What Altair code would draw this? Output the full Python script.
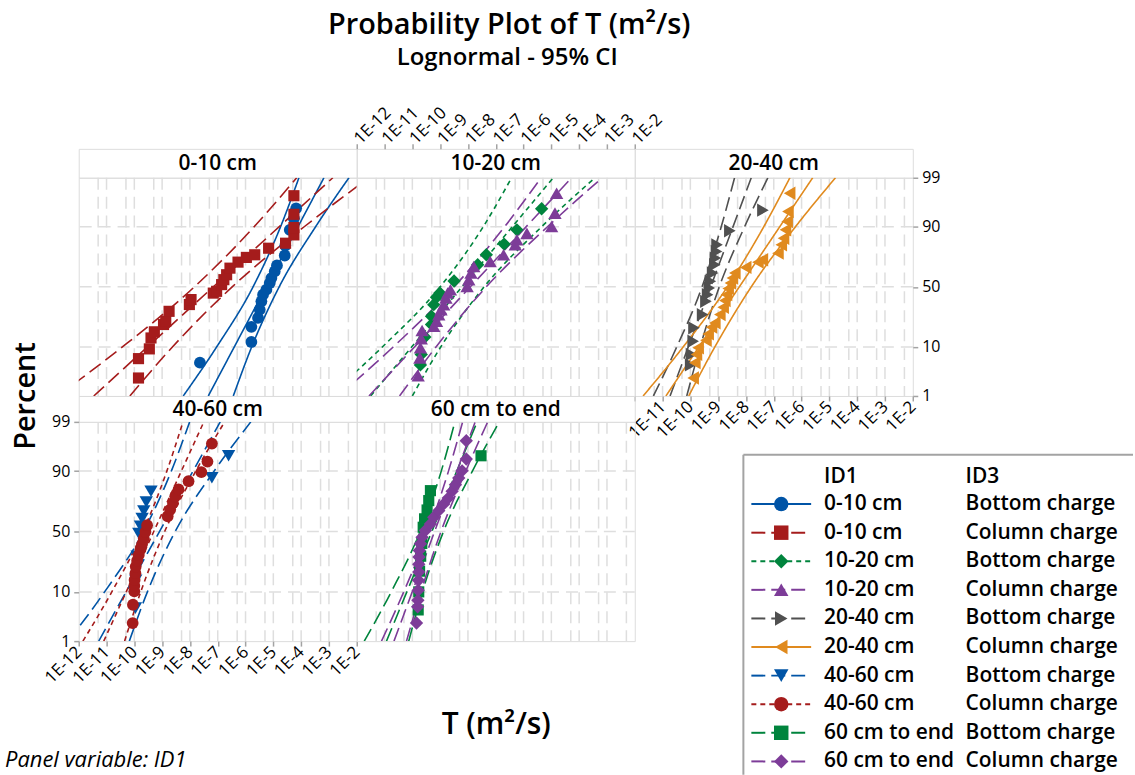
import altair as alt
import pandas as pd
from statistics import NormalDist
import math

FONT = "Open Sans"
BORDER = "#A3A3A3"
GRID = "#DEDEDE"
ND = NormalDist()

TITLE = "Probability Plot of T (m²/s)"
SUBTITLE = "Lognormal - 95% CI"
XTITLE = "T (m²/s)"
YTITLE = "Percent"
FOOT = "Panel variable: ID1"

PANELS = ["0-10 cm", "10-20 cm", "20-40 cm", "40-60 cm", "60 cm to end"]
ID1 = ["0-10 cm", "0-10 cm", "10-20 cm", "10-20 cm", "20-40 cm", "20-40 cm",
       "40-60 cm", "40-60 cm", "60 cm to end", "60 cm to end"]
ID3 = ["Bottom charge", "Column charge"] * 5
COLORS = ["#0054A6", "#A51C1C", "#00843D", "#7D3C98", "#505050", "#E08A1E",
          "#0054A6", "#A51C1C", "#00843D", "#7D3C98"]
SHAPES = ["circle", "square", "diamond", "triangle-up", "triangle-right", "triangle-left",
          "triangle-down", "circle", "square", "diamond"]
SIZES = [140, 125, 180, 180, 180, 180, 180, 140, 125, 180]
DASHES = [[1, 0], [14, 6], [5, 4], [14, 6], [14, 6], [1, 0], [14, 6], [5, 4], [14, 6], [14, 6]]

# percent levels where fitted line / CI curves were read
FIT_PCT = [1, 99]
CI_PCT = [1, 10, 50, 90, 99]

# ---- observed points: log10(T) and percent ----
s1_logT = [-7.64, -5.79, -5.79, -5.55, -5.49, -5.43, -5.37, -5.25, -5.13, -5.07, -4.95, -4.87, -4.59, -4.57, -4.41, -4.26, -4.18]
s1_pct = [5.3, 12.0, 19.7, 25.4, 31.4, 37.9, 43.4, 47.6, 53.2, 57.4, 62.9, 67.6, 74.8, 81.1, 88.8, 92.8, 95.3]
s2_logT = [-9.85, -9.85, -9.46, -9.40, -9.28, -8.95, -8.87, -8.75, -8.02, -7.96, -7.16, -7.04, -6.86, -6.78, -6.68, -6.56, -6.27, -5.97, -5.67, -5.17, -4.56, -4.26, -4.26, -4.26, -4.26]
s2_pct = [2.6, 6.3, 9.3, 13.8, 16.9, 21.1, 23.2, 30.1, 35.3, 39.3, 44.7, 46.2, 51.9, 56.1, 60.2, 65.5, 70.1, 73.5, 75.3, 79.5, 82.4, 86.6, 89.7, 93.9, 97.4]
s3_logT = [-9.71, -9.68, -9.55, -9.31, -9.31, -9.23, -9.13, -9.01, -8.50, -7.65, -7.34, -6.70, -6.24, -5.35]
s3_pct = [4.8, 7.5, 14.2, 21.1, 26.5, 35.2, 41.2, 44.8, 55.0, 68.1, 75.3, 81.9, 88.8, 95.2]
s4_logT = [-9.79, -9.73, -9.71, -9.68, -9.65, -9.23, -9.13, -9.05, -8.97, -8.87, -8.79, -8.73, -8.63, -8.03, -7.97, -7.89, -7.79, -7.20, -6.72, -6.30, -6.24, -5.88, -4.99, -4.87, -4.81]
s4_pct = [2.9, 6.5, 9.7, 13.5, 17.6, 20.1, 23.2, 27.7, 31.4, 35.2, 40.6, 44.8, 47.6, 50.4, 56.1, 61.6, 66.8, 70.6, 75.3, 81.5, 84.2, 87.3, 90.1, 94.2, 97.7]
s5_logT = [-9.99, -9.96, -9.90, -9.87, -9.56, -9.44, -9.38, -9.32, -9.28, -9.20, -9.12, -9.10, -9.06, -9.04, -8.58, -7.39]
s5_pct = [4.8, 7.5, 12.3, 19.1, 27.7, 37.9, 43.4, 49.0, 54.7, 61.6, 68.1, 73.0, 77.5, 81.5, 88.4, 94.9]
s6_logT = [-9.90, -9.84, -9.78, -9.72, -9.44, -9.36, -9.24, -9.12, -8.94, -8.82, -8.76, -8.70, -8.64, -8.56, -8.49, -8.40, -8.01, -7.57, -7.41, -6.85, -6.73, -6.65, -6.58, -6.52, -6.49, -6.43]
s6_pct = [2.6, 5.3, 7.5, 9.7, 12.7, 15.8, 19.5, 22.1, 27.7, 33.1, 38.5, 43.4, 48.5, 53.2, 57.4, 61.6, 66.1, 70.1, 71.8, 76.4, 81.5, 85.0, 88.8, 91.8, 94.6, 97.7]
s7_logT = [-9.96, -9.95, -9.90, -9.84, -9.78, -9.72, -9.66, -9.57, -9.40, -7.21, -6.61]
s7_pct = [5.2, 15.0, 30.0, 48.3, 54.5, 60.8, 66.8, 73.4, 80.4, 87.3, 94.6]
s8_logT = [-10.06, -10.05, -10.00, -10.00, -9.99, -9.96, -9.95, -9.90, -9.84, -9.78, -9.72, -9.66, -9.60, -9.54, -8.80, -8.71, -8.61, -8.53, -8.41, -8.05, -7.59, -7.37, -7.21]
s8_pct = [2.6, 6.0, 10.2, 12.5, 15.2, 18.8, 22.8, 26.8, 30.9, 35.2, 39.5, 44.1, 49.7, 55.3, 62.7, 67.9, 72.7, 77.2, 81.4, 85.7, 89.6, 93.1, 96.9]
s9_logT = [-9.79, -9.77, -9.74, -9.70, -9.66, -9.61, -9.56, -9.47, -9.41, -9.35, -7.53]
s9_pct = [4.8, 10.0, 20.0, 30.0, 40.0, 53.6, 60.6, 67.6, 74.4, 80.7, 94.6]
s10_logT = [-9.85, -9.81, -9.80, -9.79, -9.78, -9.77, -9.77, -9.76, -9.75, -9.71, -9.65, -9.53, -9.35, -9.23, -9.05, -8.87, -8.71, -8.57, -8.45, -8.33, -8.21, -8.06, -8.06]
s10_pct = [2.6, 5.5, 7.2, 10.6, 15.0, 19.5, 24.3, 29.4, 34.4, 39.7, 45.2, 50.8, 56.4, 61.9, 67.1, 72.1, 76.1, 80.3, 84.0, 87.2, 90.1, 93.8, 97.3]

# ---- fitted lines (log10 T at 1% and 99%) ----
fit_logT = [
    [-7.34, -3.18], [-11.46, -2.86], [-11.5, -4.93], [-11.56, -4.27], [-10.73, -7.81],
    [-10.88, -5.60], [-11.28, -6.91], [-11.1, -7.5], [-10.93, -7.67], [-10.66, -7.74]]
# ---- 95% CI curves (log10 T at 1, 10, 50, 90, 99 %) ----
lo_logT = [
    [-8.24, -7.04, -5.73, -4.74, -4.08], [-12.76, -10.43, -7.84, -5.69, -4.16],
    [-13.0, -11.08, -9.0, -7.45, -6.43], [-12.66, -10.69, -8.50, -6.68, -5.37],
    [-11.33, -10.49, -9.58, -8.89, -8.41], [-11.70, -10.26, -8.67, -7.36, -6.42],
    [-12.38, -11.07, -9.67, -8.67, -8.01], [-11.85, -10.81, -9.69, -8.83, -8.25],
    [-11.73, -10.76, -9.72, -8.96, -8.47], [-11.11, -10.31, -9.43, -8.70, -8.19]]
hi_logT = [
    [-6.44, -5.78, -4.79, -3.48, -2.28], [-10.16, -8.63, -6.48, -3.89, -1.56],
    [-10.0, -8.98, -7.42, -5.35, -3.43], [-10.46, -9.15, -7.34, -5.14, -3.17],
    [-10.13, -9.65, -8.96, -8.05, -7.21], [-10.06, -9.12, -7.81, -6.22, -4.78],
    [-10.18, -9.53, -8.53, -7.13, -5.81], [-10.35, -9.77, -8.91, -7.79, -6.75],
    [-10.13, -9.64, -8.88, -7.84, -6.87], [-10.21, -9.69, -8.97, -8.08, -7.29]]

PTS_LOGT = [s1_logT, s2_logT, s3_logT, s4_logT, s5_logT, s6_logT, s7_logT, s8_logT, s9_logT, s10_logT]
PTS_PCT = [s1_pct, s2_pct, s3_pct, s4_pct, s5_pct, s6_pct, s7_pct, s8_pct, s9_pct, s10_pct]

VGRID_T = [5e-12, 1e-11, 5e-11, 1e-10, 5e-10, 1e-9, 5e-9, 1e-8, 5e-8, 1e-7, 5e-7,
           1e-6, 5e-6, 1e-5, 5e-5, 1e-4, 5e-4, 1e-3, 5e-3]
HGRID_PCT = [10, 50, 90]
X_TICKS = list(range(-12, -1))
Y_TICK_PCT = [1, 10, 50, 90, 99]


def zval(p):
    return ND.inv_cdf(p / 100.0)


SIDS = [a + " | " + b for a, b in zip(ID1, ID3)]
pt_rows, ln_rows = [], []
for i, sid in enumerate(SIDS):
    for lt, p in zip(PTS_LOGT[i], PTS_PCT[i]):
        pt_rows.append({"sid": sid, "panel": ID1[i], "lx": lt, "zz": zval(p)})
    for kind, vals, pcts in (("fit", fit_logT[i], FIT_PCT), ("lo", lo_logT[i], CI_PCT), ("hi", hi_logT[i], CI_PCT)):
        for lt, p in zip(vals, pcts):
            ln_rows.append({"sid": sid, "panel": ID1[i], "key": sid + kind, "lx": lt, "zz": zval(p)})
pts_df = pd.DataFrame(pt_rows)
lns_df = pd.DataFrame(ln_rows)
vgrid_df = pd.DataFrame({"lx": [math.log10(v) for v in VGRID_T]})
hgrid_df = pd.DataFrame({"zz": [zval(p) for p in HGRID_PCT]})
xtick_df = pd.DataFrame({"lx": X_TICKS})

ZMAX = zval(99)
XS = alt.Scale(domain=[-12, -2], nice=False, zero=False)
YS = alt.Scale(domain=[-ZMAX, ZMAX], nice=False, zero=False)
W = 279
H1, H2 = 219, 220
SH1, SH2 = 29, 26

color_enc = alt.Color("sid:N", scale=alt.Scale(domain=SIDS, range=COLORS), legend=None)
shape_enc = alt.Shape("sid:N", scale=alt.Scale(domain=SIDS, range=SHAPES), legend=None)
dash_enc = alt.StrokeDash("sid:N", scale=alt.Scale(domain=SIDS, range=DASHES), legend=None)
size_enc = alt.Size("sid:N", scale=alt.Scale(type="ordinal", domain=SIDS, range=SIZES), legend=None)

ytick_z = [zval(p) for p in Y_TICK_PCT]
ylab_expr = ("[" + ",".join("'%d'" % p for p in Y_TICK_PCT) + "][indexof(["
             + ",".join(str(round(z * 1000)) for z in ytick_z) + "], round(datum.value*1000))]")


def x_axis(orient, skip_first=False):
    expr = "'1E' + datum.value"
    if skip_first:
        expr = "datum.value == -12 ? '' : '1E' + datum.value"
    return alt.Axis(orient=orient, values=X_TICKS, labelExpr=expr,
                    labelAngle=315, labelAlign="right" if orient == "bottom" else "left",
                    labelBaseline="middle", labelFont=FONT, labelFontSize=17, labelFontWeight=500,
                    labelColor="black", labelPadding=3, tickSize=5, tickColor=BORDER, tickWidth=1.5,
                    domain=False, grid=False, title=None, labelOverlap=False, labelFlush=False,
                    labelBound=False)


def y_axis(orient):
    return alt.Axis(orient=orient, values=ytick_z, labelExpr=ylab_expr, labelFont=FONT,
                    labelFontSize=16, labelColor="black", labelPadding=4, tickSize=5,
                    tickColor=BORDER, tickWidth=1.5, domain=False, grid=False, title=None,
                    labelOverlap=False, labelFlush=False, labelBound=False)


def text_layer(txt, x, y, size, weight=600, angle=0, style="normal", align="center"):
    return alt.Chart(pd.DataFrame({"t": [txt]})).mark_text(
        font=FONT, fontSize=size, fontWeight=weight, angle=angle, fontStyle=style,
        align=align, baseline="middle", color="black").encode(
        text="t:N", x=alt.value(x), y=alt.value(y))


def panel(pname, h, xaxis=None, yaxis=None, extra=()):
    vg = alt.Chart(vgrid_df).mark_rule(color=GRID, strokeWidth=1.5, strokeDash=[12, 7]).encode(
        x=alt.X("lx:Q", scale=XS, axis=xaxis))
    hg = alt.Chart(hgrid_df).mark_rule(color=GRID, strokeWidth=1.5, strokeDash=[12, 7]).encode(
        y=alt.Y("zz:Q", scale=YS, axis=yaxis))
    lines = alt.Chart(lns_df[lns_df.panel == pname]).mark_line(
        clip=True, strokeWidth=1.6, interpolate="monotone").encode(
        x=alt.X("lx:Q", scale=XS, axis=xaxis), y=alt.Y("zz:Q", scale=YS, axis=yaxis),
        color=color_enc, strokeDash=dash_enc, detail="key:N")
    pts = alt.Chart(pts_df[pts_df.panel == pname]).mark_point(filled=True, opacity=1).encode(
        x=alt.X("lx:Q", scale=XS, axis=xaxis), y=alt.Y("zz:Q", scale=YS, axis=yaxis),
        color=color_enc, shape=shape_enc, size=size_enc)
    return alt.layer(vg, hg, lines, pts, *extra).properties(width=W, height=h)


def strip(label, h, extra=()):
    return alt.layer(text_layer(label, W / 2, h / 2 + 1, 21), *extra).properties(width=W, height=h)


# frame that pins the page origin
frame = alt.Chart(pd.DataFrame({"a": [0]})).mark_rect(opacity=0).encode(
    x=alt.value(-78), x2=alt.value(1057), y=alt.value(-147), y2=alt.value(628))

top_axis_layer = alt.Chart(xtick_df).mark_rule(opacity=0).encode(
    x=alt.X("lx:Q", scale=XS, axis=x_axis("top")))

strip1 = strip(PANELS[0], SH1, [frame])
strip2 = strip(PANELS[1], SH1, [top_axis_layer,
                                text_layer(TITLE, 153, -124, 29),
                                text_layer(SUBTITLE, 151, -91, 24)])
strip3 = strip(PANELS[2], SH1)
plot1 = panel(PANELS[0], H1)
plot2 = panel(PANELS[1], H1)
plot3 = panel(PANELS[2], H1, xaxis=x_axis("bottom", skip_first=True), yaxis=y_axis("right"))
strip4 = strip(PANELS[3], SH2)
strip5 = strip(PANELS[4], SH2)
empty = alt.Chart(pd.DataFrame({"a": [0]})).mark_point(opacity=0).encode(
    x=alt.value(0), y=alt.value(0)).properties(
    width=W, height=SH2, view=alt.ViewBackground(stroke="transparent", fill="transparent"))
plot4 = panel(PANELS[3], H2, xaxis=x_axis("bottom"), yaxis=y_axis("left"),
              extra=[text_layer(YTITLE, -53, -26, 29, angle=270),
                     text_layer(FOOT, -74, 339, 22, weight=400, style="italic", align="left")])
plot5 = panel(PANELS[4], H2, extra=[text_layer(XTITLE, 140, 304, 30)])

# ---- legend ----
leg_df = pd.DataFrame({"sid": SIDS, "id1": ID1, "id3": ID3, "k": list(range(len(SIDS)))})
LY = alt.Y("k:Q", scale=alt.Scale(domain=[0, 9], range=[82.5, 340.7]), axis=None)
leg_line = alt.Chart(leg_df).mark_rule(strokeWidth=2).encode(
    x=alt.value(117), x2=alt.value(177), y=LY, color=color_enc, strokeDash=dash_enc)
leg_pt = alt.Chart(leg_df).mark_point(filled=True, opacity=1, size=210).encode(
    x=alt.value(147), y=LY, color=color_enc, shape=shape_enc)
leg_t1 = alt.Chart(leg_df).mark_text(font=FONT, fontSize=21, fontWeight=600, align="left",
                                     baseline="middle", color="black").encode(
    x=alt.value(190), y=LY, text="id1:N")
leg_t3 = alt.Chart(leg_df).mark_text(font=FONT, fontSize=21, fontWeight=600, align="left",
                                     baseline="middle", color="black").encode(
    x=alt.value(332), y=LY, text="id3:N")
box_top = alt.Chart(pd.DataFrame({"a": [0]})).mark_rule(color=BORDER, strokeWidth=2).encode(
    x=alt.value(109), x2=alt.value(500), y=alt.value(33))
box_left = alt.Chart(pd.DataFrame({"a": [0]})).mark_rule(color=BORDER, strokeWidth=2).encode(
    x=alt.value(109), y=alt.value(33), y2=alt.value(354))
legend = alt.layer(box_top, box_left, leg_line, leg_pt, leg_t1, leg_t3,
                   text_layer("ID1", 190, 55.7, 21, align="left"),
                   text_layer("ID3", 332, 55.7, 21, align="left")).properties(
    width=W, height=H2, view=alt.ViewBackground(stroke="transparent", fill="transparent"))

chart = alt.concat(strip1, strip2, strip3, plot1, plot2, plot3, strip4, strip5, empty,
                   plot4, plot5, legend, columns=3, spacing=0, bounds="flush").properties(
    padding=0).resolve_scale(x="independent", y="independent").configure_view(
    stroke=BORDER, strokeWidth=2, fill="white").configure(font=FONT)

chart.save("out.html", embed_options={"renderer": "svg", "actions": False})
